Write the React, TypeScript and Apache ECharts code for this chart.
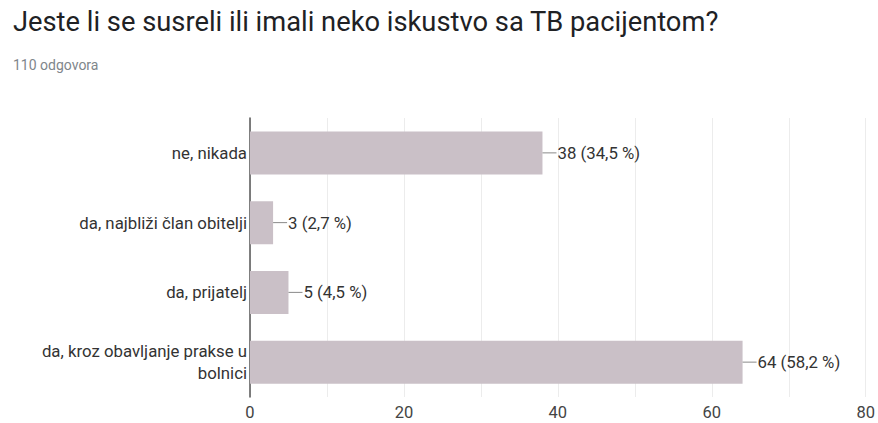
import React, { useEffect, useRef } from "react";
import * as echarts from "echarts";

const categories = [
  "ne, nikada",
  "da, najbliži član obitelji",
  "da, prijatelj",
  "da, kroz obavljanje prakse u\nbolnici",
];
const values = [38, 3, 5, 64];
const percents = ["34,5 %", "2,7 %", "4,5 %", "58,2 %"];
const titleText = "Jeste li se susreli ili imali neko iskustvo sa TB pacijentom?";
const subText = "110 odgovora";

export default function App() {
  const ref = useRef<HTMLDivElement>(null);
  useEffect(() => {
    if (!ref.current) return;
    const chart = echarts.init(ref.current, undefined, { renderer: "svg" });
    const font = "Roboto, Arial, sans-serif";
    chart.setOption({
      animation: false,
      backgroundColor: "#ffffff",
      title: {
        text: titleText,
        subtext: subText,
        left: 8,
        top: 3,
        itemGap: 23,
        textStyle: { fontFamily: font, fontSize: 27.3, fontWeight: "normal", color: "#202124" },
        subtextStyle: { fontFamily: font, fontSize: 14, color: "#80868b" },
      },
      grid: { left: 250, right: 10, top: 118, bottom: 26, containLabel: false },
      xAxis: {
        type: "value",
        min: 0,
        max: 80,
        interval: 10,
        axisLine: { show: false },
        axisTick: { show: false },
        splitLine: { show: true, lineStyle: { color: "#ececec", width: 1 } },
        axisLabel: {
          margin: 7,
          fontFamily: font,
          fontSize: 16.5,
          color: "#444",
          formatter: (v: number) => (v % 20 === 0 ? String(v) : ""),
        },
      },
      yAxis: {
        type: "category",
        inverse: true,
        data: categories,
        axisLine: { show: true, lineStyle: { color: "#555", width: 1.5 } },
        axisTick: { show: false },
        axisLabel: {
          margin: 3,
          fontFamily: font,
          fontSize: 16.8,
          color: "#333",
          align: "right",
          lineHeight: 22,
        },
      },
      series: [
        {
          type: "bar",
          data: values,
          barWidth: 43,
          itemStyle: { color: "#cac0c7" },
          label: {
            show: true,
            position: "right",
            distance: 0,
            formatter: (p: any) => `{l| }{t|${p.value} (${percents[p.dataIndex]})}`,
            rich: {
              l: { width: 14, height: 1, backgroundColor: "#888", fontSize: 1 },
              t: { fontFamily: font, fontSize: 16.8, color: "#333", padding: [0, 0, 0, 1] },
            },
          },
        },
      ],
    });
    return () => chart.dispose();
  }, []);
  return (
    <div
      ref={ref}
      style={{ position: "absolute", left: 0, top: 0, width: 878, height: 423 }}
    />
  );
}
